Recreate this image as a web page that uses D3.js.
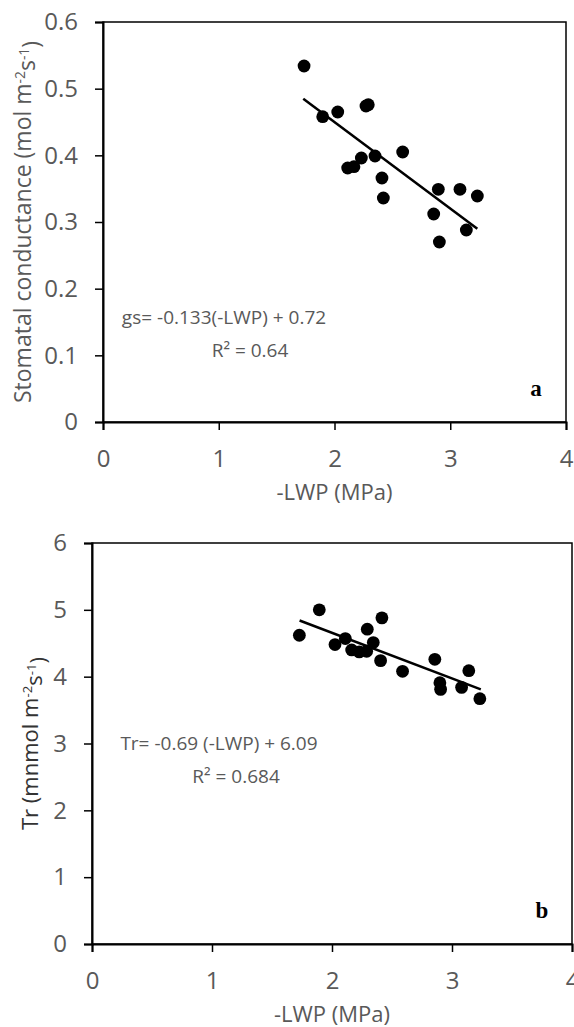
<!DOCTYPE html>
<html>
<head>
<meta charset="utf-8">
<script src="https://cdn.jsdelivr.net/npm/d3@7"></script>
<style>
  body { margin: 0; background: #fff; }
  svg { display: block; font-family: "Open Sans", sans-serif; }
</style>
</head>
<body>
<svg width="574" height="1027"></svg>
<script>
// panel a: stomatal conductance vs -LWP
const gsLWP = [1.737, 1.898, 2.028, 2.272, 2.292, 2.114, 2.168, 2.232, 2.350, 2.589, 2.410, 2.422, 2.897, 3.084, 3.234, 2.857, 3.139, 2.906];
const gsValues = [0.534, 0.458, 0.465, 0.474, 0.476, 0.381, 0.383, 0.396, 0.399, 0.405, 0.366, 0.336, 0.349, 0.349, 0.339, 0.312, 0.288, 0.270];
const gsTrendX = [1.73, 3.234];
const gsTrendY = [0.485, 0.29];
const gsTicks = [0, 0.1, 0.2, 0.3, 0.4, 0.5, 0.6];

// panel b: transpiration vs -LWP
const trLWP = [1.728, 1.894, 2.025, 2.111, 2.164, 2.227, 2.289, 2.344, 2.294, 2.416, 2.405, 2.588, 2.857, 2.899, 2.905, 3.080, 3.140, 3.232];
const trValues = [4.62, 5.0, 4.48, 4.57, 4.40, 4.37, 4.38, 4.51, 4.71, 4.88, 4.24, 4.08, 4.26, 3.91, 3.81, 3.84, 4.09, 3.67];
const trTrendX = [1.73, 3.24];
const trTrendY = [4.84, 3.81];
const trTicks = [0, 1, 2, 3, 4, 5, 6];

const xTicks = [0, 1, 2, 3, 4];

const gray = "#595959";
const svg = d3.select("svg");

function drawPanel(p) {
    let x = d3.scaleLinear().domain([0, 4]).range([p.left, p.right]);
    let y = d3.scaleLinear().domain([0, p.yMax]).range([p.bottom, p.top]);

    const g = svg.append("g");

    // plot frame
    g.append("rect")
        .attr("x", p.left).attr("y", p.top)
        .attr("width", p.right - p.left).attr("height", p.bottom - p.top)
        .attr("fill", "none").attr("stroke", "#000").attr("stroke-width", 1.5);

    g.append("g")
        .attr("transform", `translate(0,${p.bottom})`)
        .call(d3.axisBottom(x).tickValues(xTicks).tickFormat(d3.format("d")).tickSize(8).tickPadding(20))
        .attr("font-family", null).attr("font-size", null)
        .call(a => a.select(".domain").attr("stroke-width", 2))
        .call(a => a.selectAll("line").attr("stroke-width", 1.5))
        .call(a => a.selectAll("text").attr("fill", gray).style("font-size", "24px"));

    g.append("g")
        .attr("transform", `translate(${p.left},0)`)
        .call(d3.axisLeft(y).tickValues(p.yTicks).tickFormat(p.yFormat).tickSize(8).tickPadding(17))
        .attr("font-family", null).attr("font-size", null)
        .call(a => a.select(".domain").attr("stroke-width", 2))
        .call(a => a.selectAll("line").attr("stroke-width", 1.5))
        .call(a => a.selectAll("text").attr("fill", gray).style("font-size", "24px"));

    // trend line
    g.append("line")
        .attr("x1", x(p.trendX[0])).attr("y1", y(p.trendY[0]))
        .attr("x2", x(p.trendX[1])).attr("y2", y(p.trendY[1]))
        .attr("stroke", "#000").attr("stroke-width", 2.5);

    g.append("g")
        .selectAll("circle")
        .data(p.xs.map((v, i) => [v, p.ys[i]]))
        .join("circle")
        .attr("cx", d => x(d[0]))
        .attr("cy", d => y(d[1]))
        .attr("r", 6.4)
        .attr("fill", "#000");

    // axis titles
    g.append("text")
        .attr("x", (p.left + p.right) / 2).attr("y", p.bottom + 78)
        .attr("text-anchor", "middle").attr("fill", gray).style("font-size", "22px")
        .text("-LWP (MPa)");

    const yt = g.append("text")
        .attr("transform", `translate(${p.titleX},${(p.top + p.bottom) / 2}) rotate(-90)`)
        .attr("text-anchor", "middle").attr("fill", p.titleColor).style("font-size", p.titleSize);
    yt.append("tspan").text(p.title + " m");
    yt.append("tspan").attr("dy", "-0.45em").style("font-size", "0.6em").text("-2");
    yt.append("tspan").attr("dy", "0.45em").text("s");
    yt.append("tspan").attr("dy", "-0.45em").style("font-size", "0.6em").text("-1");
    yt.append("tspan").attr("dy", "0.45em").text(")");

    // regression equation
    g.append("text")
        .attr("x", p.eqX).attr("y", y(p.eqY))
        .attr("text-anchor", "middle").attr("fill", gray).style("font-size", "19px")
        .text(p.eq);
    g.append("text")
        .attr("x", p.r2X).attr("y", y(p.eqY) + 33)
        .attr("text-anchor", "middle").attr("fill", gray).style("font-size", "19px")
        .text(p.r2);

    // panel letter
    g.append("text")
        .attr("x", p.right - 30).attr("y", p.bottom - 26)
        .attr("text-anchor", "middle")
        .attr("font-family", "Liberation Serif, serif").attr("font-weight", "bold").style("font-size", "23px")
        .text(p.letter);
}

drawPanel({
    left: 103, right: 566, top: 22, bottom: 422,
    yMax: 0.6, yTicks: gsTicks, yFormat: d => d === 0 ? "0" : d3.format(".1f")(d),
    xs: gsLWP, ys: gsValues, trendX: gsTrendX, trendY: gsTrendY,
    title: "Stomatal conductance (mol", titleX: 31, titleColor: gray, titleSize: "23px",
    eq: "gs= -0.133(-LWP) + 0.72", r2: "R² = 0.64", eqX: 224, r2X: 250, eqY: 0.147,
    letter: "a"
});

drawPanel({
    left: 92, right: 572, top: 543, bottom: 944,
    yMax: 6, yTicks: trTicks, yFormat: d3.format("d"),
    xs: trLWP, ys: trValues, trendX: trTrendX, trendY: trTrendY,
    title: "Tr (mnmol", titleX: 38, titleColor: "#333", titleSize: "22px",
    eq: "Tr= -0.69 (-LWP) + 6.09", r2: "R² = 0.684", eqX: 219, r2X: 236, eqY: 2.9,
    letter: "b"
});
</script>
</body>
</html>
